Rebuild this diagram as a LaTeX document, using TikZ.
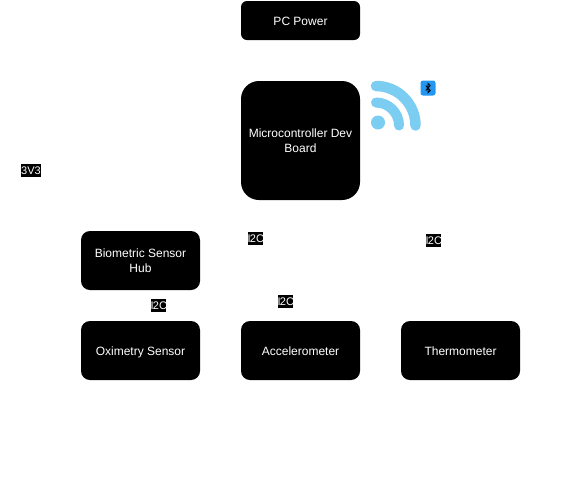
\documentclass[tikz,border=0pt]{standalone}
\usepackage{fontspec}
\setmainfont{Liberation Sans}
\definecolor{wifiblue}{HTML}{7CCDF2}
\definecolor{btblue}{HTML}{2196F3}
\tikzset{
  x=1pt,y=-1pt,
  blockbox/.style={fill=black,text=white,inner sep=0pt,align=center,minimum width=119pt,
    font=\fontsize{12}{15}\selectfont},
  oneline/.style={text height=10pt,text depth=1pt},
  tagbox/.style={fill=black,text=white,inner sep=0pt,minimum height=13pt,
    font=\fontsize{11}{13}\selectfont},
  wifiarc/.style={draw=wifiblue,line cap=round},
}
\newcommand{\tagtwo}{\makebox[15pt][r]{I\kern-0.8pt 2C\kern-1pt}}
\begin{document}
\begin{tikzpicture}
\useasboundingbox (0,0) rectangle (561,491);
\node[blockbox,oneline,minimum height=39pt,rounded corners=6pt] (pc) at (300.5,20.5) {PC Power};
\node[blockbox,minimum height=119pt,rounded corners=18pt] (mcu) at (300.5,140.5) {Microcontroller Dev\\Board};
\node[blockbox,minimum height=59pt,rounded corners=9pt] (hub) at (140.5,260.5) {Biometric Sensor\\Hub};
\node[blockbox,oneline,minimum height=59pt,rounded corners=9pt] (oxi) at (140.5,350.5) {Oximetry Sensor};
\node[blockbox,oneline,minimum height=59pt,rounded corners=9pt] (acc) at (300.5,350.5) {Accelerometer};
\node[blockbox,oneline,minimum height=59pt,rounded corners=9pt] (thermo) at (460.5,350.5) {Thermometer};
\node[tagbox,minimum width=20pt] (v33) at (31,170.5) {3V3};
\node[tagbox] (t1) at (255.5,238.5) {\tagtwo};
\node[tagbox] (t2) at (433.5,240.5) {\tagtwo};
\node[tagbox] (t3) at (158.5,305.5) {\tagtwo};
\node[tagbox] (t4) at (285.5,301.5) {\tagtwo};
% wifi icon
\fill[wifiblue] (378,122.5) circle (7);
\draw[wifiarc,line width=10.5pt] (376,86) arc[start angle=-90,end angle=0,radius=39.5];
\draw[wifiarc,line width=10pt] (376,102.5) arc[start angle=-90,end angle=0,radius=23];
% bluetooth badge
\fill[btblue,rounded corners=2.5pt] (420.5,80.5) rectangle (435.5,95.5);
\draw[black,line width=0.9pt,line join=miter] (425.8,85.6) -- (430.2,90.4) -- (428,92.6) -- (428,83.4) -- (430.2,85.6) -- (425.8,90.4);
\end{tikzpicture}
\end{document}
